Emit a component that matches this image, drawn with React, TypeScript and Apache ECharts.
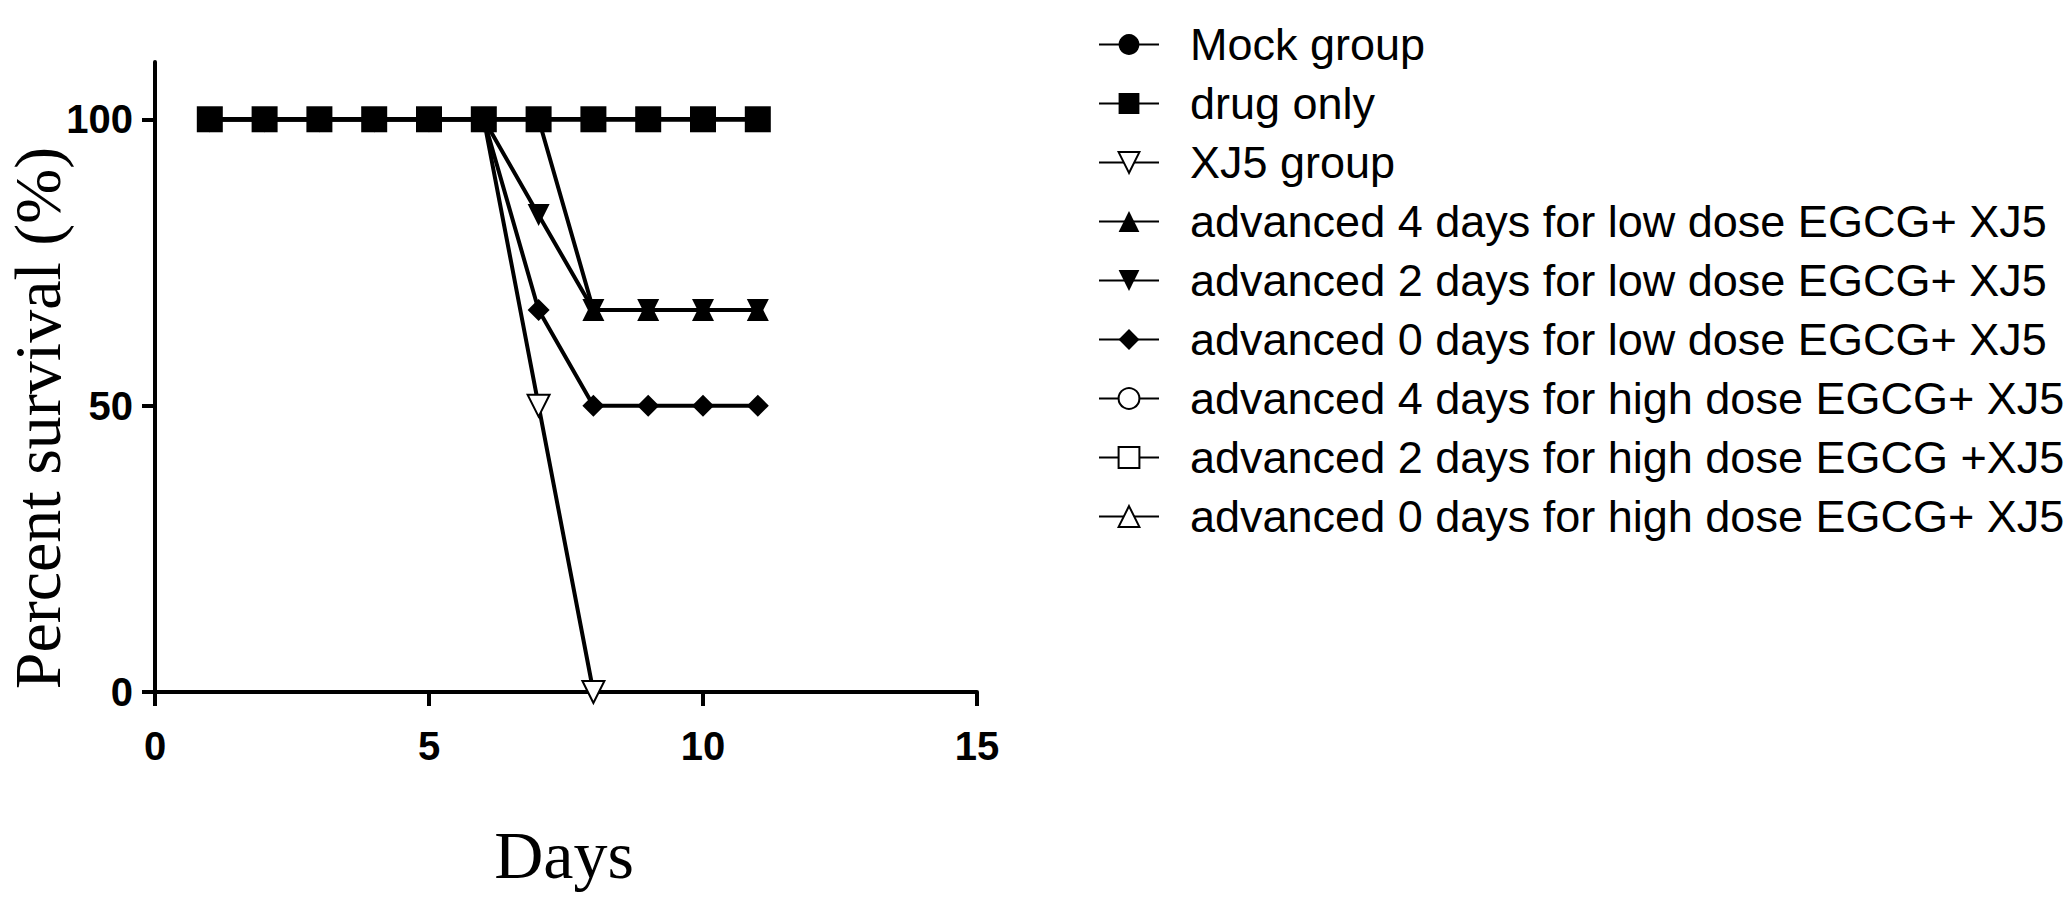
import React, { useEffect, useRef } from "react";
import * as echarts from "echarts";

const days = [1, 2, 3, 4, 5, 6, 7, 8, 9, 10, 11];

const mockGroup = [100, 100, 100, 100, 100, 100, 100, 100, 100, 100, 100];
const drugOnly = [100, 100, 100, 100, 100, 100, 100, 100, 100, 100, 100];
const xj5Group = [100, 100, 100, 100, 100, 100, 50, 0];
const adv4Low = [100, 100, 100, 100, 100, 100, 100, 66.7, 66.7, 66.7, 66.7];
const adv2Low = [100, 100, 100, 100, 100, 100, 83.3, 66.7, 66.7, 66.7, 66.7];
const adv0Low = [100, 100, 100, 100, 100, 100, 66.7, 50, 50, 50, 50];
const adv4High = [100, 100, 100, 100, 100, 100, 100, 100, 100, 100, 100];
const adv2High = [100, 100, 100, 100, 100, 100, 100, 100, 100, 100, 100];
const adv0High = [100, 100, 100, 100, 100, 100, 100, 100, 100, 100, 100];

const seriesNames = [
  "Mock group",
  "drug only",
  "XJ5 group",
  "advanced 4 days for low dose EGCG+ XJ5",
  "advanced 2 days for low dose EGCG+ XJ5",
  "advanced 0 days for low dose EGCG+ XJ5",
  "advanced 4 days for high dose EGCG+ XJ5",
  "advanced 2 days for high dose EGCG +XJ5",
  "advanced 0 days for high dose EGCG+ XJ5",
];

const xTicks = [0, 5, 10, 15];
const yTicks = [0, 50, 100];

const xTitle = "Days";
const yTitle = "Percent survival (%)";

export default function App() {
  const ref = useRef<HTMLDivElement>(null);

  useEffect(() => {
    document.body.style.margin = "0";
    const chart = echarts.init(ref.current!, null, { renderer: "svg" });

    const pts = (vals: number[]) => vals.map((v, i) => [days[i], v]);
    const mk = (
      name: string,
      vals: number[],
      symbol: string,
      size: number,
      rotate: number,
      z: number
    ) => ({
      name,
      type: "line",
      data: pts(vals),
      symbol,
      symbolSize: size,
      symbolRotate: rotate,
      showAllSymbol: true,
      z,
      lineStyle: { color: "#000", width: 4 },
      itemStyle: {
        color: "#000",
        borderColor: "#000",
        borderWidth: symbol.startsWith("empty") ? 3 : 0,
      },
      emphasis: { disabled: true },
    });

    const series = [
      mk(seriesNames[0], mockGroup, "circle", 20, 0, 2),
      mk(seriesNames[1], drugOnly, "rect", 26, 0, 6),
      mk(seriesNames[2], xj5Group, "emptyTriangle", 22, 180, 3),
      mk(seriesNames[3], adv4Low, "triangle", 22, 0, 3),
      mk(seriesNames[4], adv2Low, "triangle", 22, 180, 3),
      mk(seriesNames[5], adv0Low, "diamond", 22, 0, 3),
      mk(seriesNames[6], adv4High, "emptyCircle", 20, 0, 2),
      mk(seriesNames[7], adv2High, "emptyRect", 20, 0, 2),
      mk(seriesNames[8], adv0High, "emptyTriangle", 20, 0, 2),
    ];

    const axisFont = {
      color: "#000",
      fontSize: 40,
      fontWeight: "bold" as const,
      fontFamily: "Liberation Sans, Arial, sans-serif",
    };

    chart.setOption({
      animation: false,
      backgroundColor: "#fff",
      grid: { left: 155, top: 62, width: 822, height: 630, containLabel: false },
      xAxis: {
        type: "value",
        min: 0,
        max: 15,
        interval: 5,
        splitLine: { show: false },
        axisLine: { show: true, lineStyle: { color: "#000", width: 4 } },
        axisTick: {
          show: true,
          inside: false,
          length: 14,
          lineStyle: { color: "#000", width: 4 },
          customValues: xTicks,
        },
        axisLabel: { ...axisFont, margin: 34, customValues: xTicks },
      },
      yAxis: {
        type: "value",
        min: 0,
        max: 110,
        interval: 50,
        splitLine: { show: false },
        axisLine: { show: true, lineStyle: { color: "#000", width: 4 } },
        axisTick: {
          show: true,
          inside: false,
          length: 13,
          lineStyle: { color: "#000", width: 4 },
          customValues: yTicks,
        },
        axisLabel: { ...axisFont, margin: 22, customValues: yTicks },
      },
      legend: {
        orient: "vertical",
        left: 1098,
        top: 22,
        padding: 0,
        itemWidth: 60,
        itemHeight: 26,
        itemGap: 14,
        selectedMode: false,
        data: seriesNames,
        textStyle: {
          color: "#000",
          fontSize: 45,
          lineHeight: 45,
          fontFamily: "Liberation Sans, Arial, sans-serif",
          padding: [0, 0, 0, 26],
        },
      },
      graphic: [
        {
          type: "text",
          x: 37,
          y: 418,
          rotation: Math.PI / 2,
          style: {
            text: yTitle,
            fill: "#000",
            font: "66px 'Liberation Serif', 'Times New Roman', serif",
            textAlign: "center",
            textVerticalAlign: "middle",
          },
        },
        {
          type: "text",
          x: 564,
          y: 855,
          style: {
            text: xTitle,
            fill: "#000",
            font: "68px 'Liberation Serif', 'Times New Roman', serif",
            textAlign: "center",
            textVerticalAlign: "middle",
          },
        },
      ],
      series,
    });

    return () => chart.dispose();
  }, []);

  return <div ref={ref} style={{ width: 2067, height: 906, background: "#fff" }} />;
}
